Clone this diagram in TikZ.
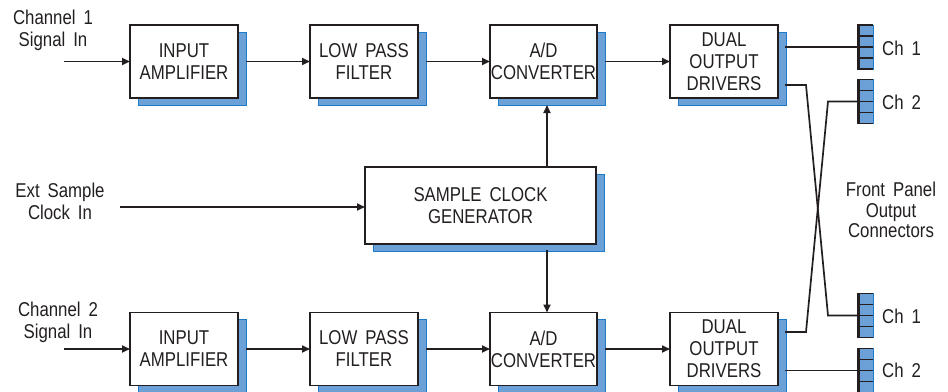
\documentclass[tikz,border=0pt]{standalone}
\usepackage{fontspec}
\setmainfont{Liberation Sans}[FakeStretch=0.84,WordSpace=1.7]
\usetikzlibrary{arrows.meta,calc}
\definecolor{ink}{HTML}{231F20}
\definecolor{sblue}{HTML}{6CA1D8}
\definecolor{sedge}{HTML}{1E7BC9}
\newcommand\blockbox[6]{%
  \draw[shad] (#2-#4/2+8, #3-#5/2+7) rectangle (#2+#4/2+8, #3+#5/2+7);
  \node[blk, minimum width=#4pt, minimum height=#5pt] (#1) at (#2,#3) {#6};
}
\newcommand\connbox[3]{%
  \node[conn] (#1) at (#2,#3) {};
  \draw[ink, line width=1.3pt]
    (#1.north west) -- (#1.north east)
    (#1.south west) -- (#1.south east)
    ($(#1.north west)!0.25!(#1.south west)$) -- ($(#1.north east)!0.25!(#1.south east)$)
    ($(#1.north west)!0.5!(#1.south west)$) -- ($(#1.north east)!0.5!(#1.south east)$)
    ($(#1.north west)!0.75!(#1.south west)$) -- ($(#1.north east)!0.75!(#1.south east)$);
  \draw[ink, line width=3pt] ([yshift=0.65pt]#1.north west) -- ([yshift=-0.65pt]#1.south west);
}
\begin{document}
\begin{tikzpicture}[x=1pt,y=-1pt,
  txt/.style={font=\fontsize{20}{22}\selectfont, text=ink, inner sep=0pt, align=center},
  tight/.style={font=\fontsize{20}{20.5}\selectfont},
  blk/.style={txt, draw=ink, line width=1.5pt, fill=white, outer sep=0pt},
  shad/.style={fill=sblue, draw=sedge, line width=1pt},
  conn/.style={draw=sedge, fill=sblue, line width=0.8pt, minimum width=15pt, minimum height=44pt, inner sep=0pt, outer sep=0pt},
  wire/.style={draw=ink, line width=1.7pt},
  arr/.style={wire, -{Triangle[length=8pt,width=7pt]}}]
\useasboundingbox (0,0) rectangle (948,391);

% top row
\blockbox{inA1}{184}{61.5}{108}{73}{INPUT\\AMPLIFIER}
\blockbox{lp1}{364}{61.5}{108}{73}{LOW PASS\\FILTER}
\blockbox{ad1}{543.5}{61.5}{107}{73}{A/D\\CONVERTER}
\blockbox{dr1}{724}{61.5}{108}{73}{\fontsize{20}{20.5}\selectfont DUAL\\OUTPUT\\DRIVERS}
% clock
\blockbox{clk}{480.5}{205.5}{231}{77}{SAMPLE CLOCK\\GENERATOR}
% bottom row
\blockbox{inA2}{184}{349}{108}{73}{INPUT\\AMPLIFIER}
\blockbox{lp2}{364}{349}{108}{73}{LOW PASS\\FILTER}
\blockbox{ad2}{543.5}{349}{107}{73}{A/D\\CONVERTER}
\blockbox{dr2}{724}{349}{108}{73}{\fontsize{20}{20.5}\selectfont DUAL\\OUTPUT\\DRIVERS}

% connectors
\connbox{c1t}{865.5}{47}
\connbox{c2t}{865.5}{101.5}
\connbox{c1b}{865.5}{315.5}
\connbox{c2b}{865.5}{370.5}

% labels
\node[txt] (l1) at (53,30) {Channel 1\\Signal In};
\node[txt] (l2) at (60,201) {Ext Sample\\Clock In};
\node[txt] (l3) at (58,322) {Channel 2\\Signal In};
\node[txt, tight] (fp) at (891,210) {Front Panel\\Output\\Connectors};
\node[txt, anchor=west] (t1) at (882,48) {Ch 1};
\node[txt, anchor=west] (t2) at (882,102) {Ch 2};
\node[txt, anchor=west] (t3) at (882,316) {Ch 1};
\node[txt, anchor=west] (t4) at (882,370) {Ch 2};

% inputs
\coordinate (in1) at (64,61.5);
\coordinate (in2) at (64,349);
\coordinate (ext) at (120,207);
\draw[arr] (in1) -- (inA1.west);
\draw[arr] (in2) -- (inA2.west);
\draw[arr] (ext) -- (ext -| clk.west);

% chains
\draw[arr] ([xshift=8pt]inA1.east) -- (lp1.west);
\draw[arr] ([xshift=8pt]lp1.east) -- (ad1.west);
\draw[arr] ([xshift=8pt]ad1.east) -- (dr1.west);
\draw[arr] ([xshift=8pt]inA2.east) -- (lp2.west);
\draw[arr] ([xshift=8pt]lp2.east) -- (ad2.west);
\draw[arr] ([xshift=8pt]ad2.east) -- (dr2.west);

% clock distribution
\coordinate (xa) at (547,0);
\draw[arr] (clk.north -| xa) -- ([yshift=-7pt]ad1.south -| xa);
\draw[arr] ([yshift=-6pt]clk.south -| xa) -- (ad2.north -| xa);

% outputs
\coordinate (o1) at ([xshift=7pt]dr1.east);
\coordinate (o2) at ([xshift=7pt]dr2.east);
\draw[wire] (o1 |- c1t.west) -- (c1t.west);
\draw[wire] (o2 |- c2b.west) -- (c2b.west);
\draw[wire, line join=miter] (o1 |- 0,85) -- (806,85) -- (828,315.5) -- (c1b.west);
\draw[wire, line join=miter] (o2 |- 0,332) -- (806,332) -- (828,101.5) -- (c2t.west);
\end{tikzpicture}
\end{document}
